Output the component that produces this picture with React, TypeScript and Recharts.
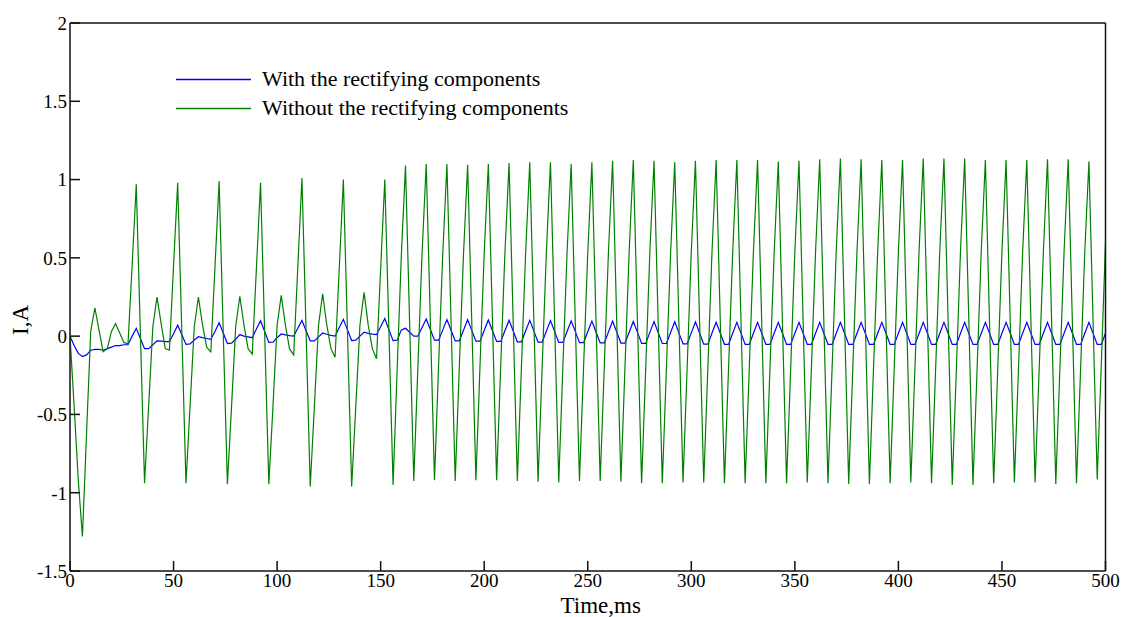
import React from 'react';
import { LineChart, Line, XAxis, YAxis, Legend, Label } from 'recharts';

const TIME_MS = [
  0, 2, 4, 6, 8, 10, 12, 14, 16, 18, 20, 22, 24, 26, 28, 30, 32, 34, 36, 38,
  40, 42, 44, 46, 48, 50, 52, 54, 56, 58, 60, 62, 64, 66, 68, 70, 72, 74, 76, 78,
  80, 82, 84, 86, 88, 90, 92, 94, 96, 98, 100, 102, 104, 106, 108, 110, 112, 114, 116, 118,
  120, 122, 124, 126, 128, 130, 132, 134, 136, 138, 140, 142, 144, 146, 148, 150, 152, 154, 156, 158,
  160, 162, 164, 166, 168, 170, 172, 174, 176, 178, 180, 182, 184, 186, 188, 190, 192, 194, 196, 198,
  200, 202, 204, 206, 208, 210, 212, 214, 216, 218, 220, 222, 224, 226, 228, 230, 232, 234, 236, 238,
  240, 242, 244, 246, 248, 250, 252, 254, 256, 258, 260, 262, 264, 266, 268, 270, 272, 274, 276, 278,
  280, 282, 284, 286, 288, 290, 292, 294, 296, 298, 300, 302, 304, 306, 308, 310, 312, 314, 316, 318,
  320, 322, 324, 326, 328, 330, 332, 334, 336, 338, 340, 342, 344, 346, 348, 350, 352, 354, 356, 358,
  360, 362, 364, 366, 368, 370, 372, 374, 376, 378, 380, 382, 384, 386, 388, 390, 392, 394, 396, 398,
  400, 402, 404, 406, 408, 410, 412, 414, 416, 418, 420, 422, 424, 426, 428, 430, 432, 434, 436, 438,
  440, 442, 444, 446, 448, 450, 452, 454, 456, 458, 460, 462, 464, 466, 468, 470, 472, 474, 476, 478,
  480, 482, 484, 486, 488, 490, 492, 494, 496, 498, 500,
];

// With the rectifying components (blue)
const WITH_RECT = [
  0, -0.06, -0.11, -0.13, -0.12,
  -0.09, -0.085, -0.085, -0.09, -0.08,
  -0.07, -0.06, -0.06, -0.055, -0.055,
  0.0, 0.05, -0.015, -0.08, -0.08,
  -0.055, -0.03, -0.032, -0.035, -0.035,
  0.015, 0.07, 0.01, -0.053, -0.05,
  -0.025, -0.004, -0.01, -0.015, -0.02,
  0.03, 0.085, 0.02, -0.047, -0.045,
  -0.02, 0.01, 0.0, -0.005, -0.01,
  0.045, 0.098, 0.03, -0.04, -0.038,
  -0.01, 0.014, 0.008, 0.003, 0.0,
  0.05, 0.1, 0.035, -0.03, -0.03,
  -0.005, 0.02, 0.012, 0.005, 0.0,
  0.055, 0.107, 0.04, -0.028, -0.026,
  0.0, 0.025, 0.018, 0.013, 0.01,
  0.06, 0.113, 0.04, -0.028, -0.026,
  0.04, 0.05, 0.025, 0.0, 0.0,
  0.055, 0.11, 0.042, -0.026, -0.026,
  0.04, 0.106, 0.038, -0.03, -0.03,
  0.038, 0.106, 0.037, -0.032, -0.032,
  0.036, 0.103, 0.035, -0.034, -0.034,
  0.034, 0.102, 0.033, -0.036, -0.036,
  0.033, 0.101, 0.032, -0.038, -0.038,
  0.031, 0.099, 0.03, -0.04, -0.04,
  0.03, 0.098, 0.029, -0.042, -0.042,
  0.028, 0.096, 0.027, -0.043, -0.043,
  0.027, 0.095, 0.026, -0.044, -0.044,
  0.025, 0.094, 0.024, -0.046, -0.046,
  0.024, 0.093, 0.023, -0.047, -0.047,
  0.023, 0.092, 0.021, -0.049, -0.049,
  0.021, 0.091, 0.02, -0.051, -0.051,
  0.02, 0.089, 0.018, -0.052, -0.052,
  0.018, 0.088, 0.018, -0.053, -0.053,
  0.018, 0.088, 0.018, -0.053, -0.053,
  0.018, 0.088, 0.018, -0.053, -0.053,
  0.018, 0.088, 0.018, -0.053, -0.053,
  0.018, 0.088, 0.018, -0.053, -0.053,
  0.018, 0.088, 0.018, -0.053, -0.053,
  0.018, 0.088, 0.018, -0.053, -0.053,
  0.018, 0.088, 0.018, -0.053, -0.053,
  0.018, 0.088, 0.018, -0.053, -0.053,
  0.018, 0.088, 0.018, -0.053, -0.053,
  0.018, 0.088, 0.018, -0.053, -0.053,
  0.018, 0.088, 0.018, -0.053, -0.053,
  0.018, 0.088, 0.018, -0.053, -0.053,
  0.018, 0.088, 0.018, -0.053, -0.053,
  0.018, 0.088, 0.018, -0.053, -0.053,
  0.018, 0.088, 0.018, -0.053, -0.053,
  0.018, 0.088, 0.018, -0.053, -0.053,
  0.018, 0.088, 0.018, -0.053, -0.053,
  0.018,
];

// Without the rectifying components (green)
const WITHOUT_RECT = [
  0, -0.45, -0.92, -1.28, -0.62,
  0.03, 0.18, 0.04, -0.1, -0.08,
  0.03, 0.08, 0.02, -0.04, -0.05,
  0.45, 0.97, 0.01, -0.94, -0.44,
  0.06, 0.25, 0.08, -0.08, -0.09,
  0.45, 0.98, 0.02, -0.94, -0.44,
  0.06, 0.25, 0.07, -0.07, -0.1,
  0.44, 0.99, 0.02, -0.945, -0.45,
  0.06, 0.255, 0.07, -0.08, -0.115,
  0.43, 0.98, 0.02, -0.945, -0.45,
  0.07, 0.26, 0.07, -0.08, -0.12,
  0.44, 1.01, 0.03, -0.96, -0.45,
  0.07, 0.27, 0.07, -0.08, -0.135,
  0.43, 1.0, 0.02, -0.96, -0.45,
  0.07, 0.28, 0.07, -0.08, -0.145,
  0.43, 1.0, 0.03, -0.95, -0.2,
  0.52, 1.09, 0.08, -0.925, -0.19,
  0.53, 1.1, 0.09, -0.92, -0.18,
  0.53, 1.1, 0.09, -0.925, -0.19,
  0.52, 1.095, 0.09, -0.92, -0.18,
  0.53, 1.1, 0.09, -0.92, -0.18,
  0.53, 1.105, 0.09, -0.925, -0.19,
  0.53, 1.11, 0.09, -0.93, -0.19,
  0.53, 1.11, 0.09, -0.935, -0.19,
  0.53, 1.1, 0.08, -0.925, -0.19,
  0.53, 1.11, 0.09, -0.925, -0.19,
  0.54, 1.12, 0.09, -0.93, -0.19,
  0.54, 1.125, 0.09, -0.94, -0.2,
  0.54, 1.12, 0.09, -0.94, -0.2,
  0.53, 1.11, 0.09, -0.935, -0.2,
  0.54, 1.12, 0.09, -0.935, -0.2,
  0.54, 1.125, 0.09, -0.94, -0.2,
  0.54, 1.125, 0.09, -0.94, -0.2,
  0.54, 1.125, 0.09, -0.94, -0.2,
  0.53, 1.115, 0.09, -0.94, -0.2,
  0.54, 1.12, 0.09, -0.935, -0.2,
  0.54, 1.13, 0.09, -0.94, -0.2,
  0.55, 1.135, 0.1, -0.945, -0.2,
  0.54, 1.13, 0.09, -0.945, -0.2,
  0.54, 1.125, 0.09, -0.94, -0.2,
  0.54, 1.125, 0.09, -0.935, -0.2,
  0.55, 1.135, 0.1, -0.94, -0.2,
  0.55, 1.135, 0.1, -0.95, -0.21,
  0.55, 1.135, 0.1, -0.95, -0.21,
  0.54, 1.125, 0.09, -0.94, -0.2,
  0.54, 1.125, 0.09, -0.935, -0.2,
  0.54, 1.125, 0.09, -0.935, -0.2,
  0.54, 1.13, 0.09, -0.945, -0.2,
  0.54, 1.13, 0.09, -0.94, -0.2,
  0.54, 1.115, 0.09, -0.915, -0.17,
  0.6,
];

const X_TICKS = [0, 50, 100, 150, 200, 250, 300, 350, 400, 450, 500];
const Y_TICKS = [-1.5, -1, -0.5, 0, 0.5, 1, 1.5, 2];
const SERIES_NAMES = ['With the rectifying components', 'Without the rectifying components'];
const X_LABEL = 'Time,ms';
const Y_LABEL = 'I,A';

const BLUE = '#0000ff';
const GREEN = '#008000';
const FONT = '"Liberation Serif", "Times New Roman", serif';
const AXIS_COLOR = '#111';
const TICK_FONT_SIZE = 19;
const LABEL_FONT_SIZE = 23;

const data = TIME_MS.map((t, i) => ({ t, with: WITH_RECT[i], without: WITHOUT_RECT[i] }));

function XTick(props: any) {
  const { x, y, payload } = props;
  return (
    <text x={x} y={y} dy="0.71em" textAnchor="middle" fontFamily={FONT} fontSize={TICK_FONT_SIZE} fill="#000">
      {String(payload.value)}
    </text>
  );
}

function YTick(props: any) {
  const { x, y, payload } = props;
  return (
    <text x={x} y={y} dy="0.36em" textAnchor="end" fontFamily={FONT} fontSize={TICK_FONT_SIZE} fill="#000">
      {String(payload.value)}
    </text>
  );
}

function LegendBox() {
  const colors = [BLUE, GREEN];
  return (
    <div style={{ fontFamily: FONT, fontSize: 22, color: '#000' }}>
      {SERIES_NAMES.map((name, i) => (
        <div key={name} style={{ display: 'flex', alignItems: 'center', height: 29, whiteSpace: 'nowrap' }}>
          <svg width={86} height={29} style={{ display: 'block' }}>
            <line x1={0} y1={14.5} x2={75} y2={14.5} stroke={colors[i]} strokeWidth={1.3} />
          </svg>
          <span>{name}</span>
        </div>
      ))}
    </div>
  );
}

export default function App() {
  return (
    <div style={{ width: 1121, height: 617 }}>
      <style>{'html, body { margin: 0; padding: 0; }'}</style>
      <LineChart
        width={1121}
        height={617}
        data={data}
        margin={{ top: 22, right: 14.5, bottom: 0, left: 0 }}
        style={{ fontFamily: FONT }}
      >
        <XAxis
          dataKey="t"
          type="number"
          domain={[0, 500]}
          ticks={X_TICKS}
          interval={0}
          height={46}
          tickSize={-10}
          tickMargin={13}
          stroke={AXIS_COLOR}
          strokeWidth={1.5}
          tick={<XTick />}
          allowDataOverflow
        >
          <Label
            content={(props: any) => {
              const vb = props.viewBox;
              return (
                <text x={vb.x + vb.width / 2 + 13} y={vb.y + 42} textAnchor="middle" fontFamily={FONT} fontSize={LABEL_FONT_SIZE} fill="#000">
                  {X_LABEL}
                </text>
              );
            }}
          />
        </XAxis>
        <XAxis
          xAxisId="top"
          orientation="top"
          dataKey="t"
          type="number"
          domain={[0, 500]}
          ticks={X_TICKS}
          interval={0}
          height={1}
          tickSize={-10}
          tick={false}
          stroke={AXIS_COLOR}
          strokeWidth={1.5}
          allowDataOverflow
        />
        <YAxis
          type="number"
          domain={[-1.5, 2]}
          ticks={Y_TICKS}
          interval={0}
          width={70}
          tickSize={-10}
          tickMargin={13}
          stroke={AXIS_COLOR}
          strokeWidth={1.5}
          tick={<YTick />}
          allowDataOverflow
        >
          <Label
            content={(props: any) => {
              const vb = props.viewBox;
              const cx = vb.x + 20;
              const cy = vb.y + vb.height / 2 + 23;
              return (
                <text
                  x={cx}
                  y={cy}
                  textAnchor="middle"
                  dominantBaseline="central"
                  transform={`rotate(-90, ${cx}, ${cy})`}
                  fontFamily={FONT}
                  fontSize={LABEL_FONT_SIZE}
                  fill="#000"
                >
                  {Y_LABEL}
                </text>
              );
            }}
          />
        </YAxis>
        <YAxis
          yAxisId="right"
          orientation="right"
          type="number"
          domain={[-1.5, 2]}
          ticks={Y_TICKS}
          interval={0}
          width={1}
          tickSize={-10}
          tick={false}
          stroke={AXIS_COLOR}
          strokeWidth={1.5}
          allowDataOverflow
        />
        <Legend
          layout="horizontal"
          verticalAlign="middle"
          align="center"
          content={() => <LegendBox />}
          wrapperStyle={{ position: 'absolute', left: 176, top: 64.5, width: 'auto', height: 'auto' }}
        />
        <Line
          type="linear"
          dataKey="with"
          xAxisId="top"
          yAxisId="right"
          name={SERIES_NAMES[0]}
          stroke={BLUE}
          strokeWidth={1.2}
          dot={false}
          activeDot={false}
          isAnimationActive={false}
        />
        <Line
          type="linear"
          dataKey="without"
          name={SERIES_NAMES[1]}
          stroke={GREEN}
          strokeWidth={1.2}
          dot={false}
          activeDot={false}
          isAnimationActive={false}
        />
      </LineChart>
    </div>
  );
}
